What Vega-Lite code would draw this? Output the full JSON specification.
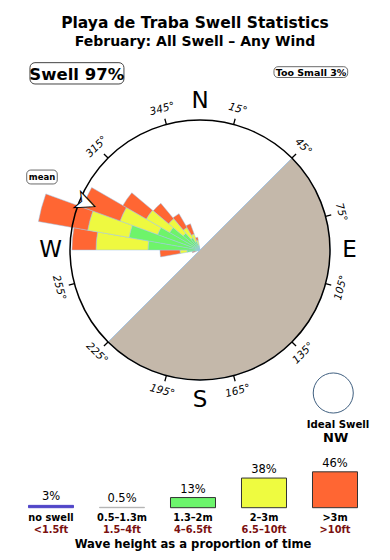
{
  "$schema": "https://vega.github.io/schema/vega-lite/v6.json",
  "width": 390,
  "height": 508,
  "autosize": {"type": "none"},
  "padding": {"left": 0, "top": 52, "right": 0, "bottom": 0},
  "background": "white",
  "title": {
    "text": "Playa de Traba Swell Statistics",
    "subtitle": "February: All Swell – Any Wind",
    "anchor": "middle",
    "font": "DejaVu Sans",
    "fontSize": 15.5,
    "fontWeight": "bold",
    "color": "black",
    "subtitleFont": "DejaVu Sans",
    "subtitleFontSize": 14,
    "subtitleFontWeight": "bold",
    "subtitleColor": "black",
    "offset": 3,
    "subtitlePadding": 4
  },
  "config": {"view": {"stroke": null}, "font": "DejaVu Sans"},
  "datasets": {
    "wedges": [
      {"d0": 250, "d1": 260, "cat": "1.3–2m", "r0": 0, "r1": 0.23},
      {"d0": 250, "d1": 260, "cat": "2–3m", "r0": 0.23, "r1": 0.38},
      {"d0": 250, "d1": 260, "cat": ">3m", "r0": 0.38, "r1": 0.62},
      {"d0": 260, "d1": 270, "cat": "1.3–2m", "r0": 0, "r1": 1.0},
      {"d0": 260, "d1": 270, "cat": "2–3m", "r0": 1.0, "r1": 1.54},
      {"d0": 260, "d1": 270, "cat": ">3m", "r0": 1.54, "r1": 3.08},
      {"d0": 270, "d1": 280, "cat": "1.3–2m", "r0": 0, "r1": 4.0},
      {"d0": 270, "d1": 280, "cat": "2–3m", "r0": 4.0, "r1": 8.0},
      {"d0": 270, "d1": 280, "cat": ">3m", "r0": 8.0, "r1": 9.85},
      {"d0": 280, "d1": 290, "cat": "1.3–2m", "r0": 0, "r1": 5.54},
      {"d0": 280, "d1": 290, "cat": "2–3m", "r0": 5.54, "r1": 8.77},
      {"d0": 280, "d1": 290, "cat": ">3m", "r0": 8.77, "r1": 12.62},
      {"d0": 290, "d1": 300, "cat": "1.3–2m", "r0": 0, "r1": 3.46},
      {"d0": 290, "d1": 300, "cat": "2–3m", "r0": 3.46, "r1": 6.54},
      {"d0": 290, "d1": 300, "cat": ">3m", "r0": 6.54, "r1": 9.62},
      {"d0": 300, "d1": 310, "cat": "1.3–2m", "r0": 0, "r1": 2.69},
      {"d0": 300, "d1": 310, "cat": "2–3m", "r0": 2.69, "r1": 4.77},
      {"d0": 300, "d1": 310, "cat": ">3m", "r0": 4.77, "r1": 6.85},
      {"d0": 310, "d1": 320, "cat": "1.3–2m", "r0": 0, "r1": 1.69},
      {"d0": 310, "d1": 320, "cat": "2–3m", "r0": 1.69, "r1": 3.15},
      {"d0": 310, "d1": 320, "cat": ">3m", "r0": 3.15, "r1": 4.69},
      {"d0": 320, "d1": 330, "cat": "1.3–2m", "r0": 0, "r1": 1.08},
      {"d0": 320, "d1": 330, "cat": "2–3m", "r0": 1.08, "r1": 2.0},
      {"d0": 320, "d1": 330, "cat": ">3m", "r0": 2.0, "r1": 3.23},
      {"d0": 330, "d1": 340, "cat": "1.3–2m", "r0": 0, "r1": 0.69},
      {"d0": 330, "d1": 340, "cat": "2–3m", "r0": 0.69, "r1": 1.31},
      {"d0": 330, "d1": 340, "cat": ">3m", "r0": 1.31, "r1": 2.15},
      {"d0": 340, "d1": 350, "cat": "1.3–2m", "r0": 0, "r1": 0.38},
      {"d0": 340, "d1": 350, "cat": "2–3m", "r0": 0.38, "r1": 0.77},
      {"d0": 340, "d1": 350, "cat": ">3m", "r0": 0.77, "r1": 1.0}
    ],
    "ticks": [
      {"b": 15}, {"b": 45}, {"b": 75}, {"b": 105}, {"b": 135}, {"b": 165},
      {"b": 195}, {"b": 225}, {"b": 255}, {"b": 285}, {"b": 315}, {"b": 345}
    ],
    "degrees": [
      {"b": 15, "label": "15°"}, {"b": 45, "label": "45°"}, {"b": 75, "label": "75°"},
      {"b": 105, "label": "105°"}, {"b": 135, "label": "135°"}, {"b": 165, "label": "165°"},
      {"b": 195, "label": "195°"}, {"b": 225, "label": "225°"}, {"b": 255, "label": "255°"},
      {"b": 315, "label": "315°"}, {"b": 345, "label": "345°"}
    ],
    "compass": [
      {"b": 0, "label": "N"}, {"b": 90, "label": "E"}, {"b": 180, "label": "S"}, {"b": 270, "label": "W"}
    ],
    "legend": [
      {"cat": "no swell", "pct": 3, "pctLabel": "3%", "ft": "<1.5ft"},
      {"cat": "0.5–1.3m", "pct": 0.5, "pctLabel": "0.5%", "ft": "1.5–4ft"},
      {"cat": "1.3–2m", "pct": 13, "pctLabel": "13%", "ft": "4–6.5ft"},
      {"cat": "2–3m", "pct": 38, "pctLabel": "38%", "ft": "6.5–10ft"},
      {"cat": ">3m", "pct": 46, "pctLabel": "46%", "ft": ">10ft"}
    ]
  },
  "layer": [
    {
      "layer": [
        {
          "data": {"values": [{"zone": "land", "from": 45, "to": 225}]},
          "mark": {"type": "arc", "fill": "#c4b8aa", "stroke": "#a6c4e2", "strokeWidth": 1},
          "encoding": {
            "x": {"datum": 0, "type": "quantitative", "scale": {"domain": [-10, 10], "range": [70, 330]}, "axis": null},
            "y": {"datum": 0, "type": "quantitative", "scale": {"domain": [-10, 10], "range": [328, 68]}, "axis": null},
            "theta": {"field": "from", "type": "quantitative", "scale": {"domain": [0, 360], "range": [0, 6.283185307179586]}, "stack": null},
            "theta2": {"field": "to"},
            "radius": {"datum": 10, "type": "quantitative", "scale": {"type": "linear", "domain": [0, 10], "range": [0, 130], "zero": true}}
          }
        },
        {
          "data": {"name": "ticks"},
          "mark": {"type": "arc", "filled": false, "stroke": "black", "strokeWidth": 1.3},
          "encoding": {
            "x": {"datum": 0, "type": "quantitative"},
            "y": {"datum": 0, "type": "quantitative"},
            "theta": {"field": "b", "type": "quantitative", "stack": null},
            "theta2": {"field": "b"},
            "radius": {"datum": 10.45, "type": "quantitative"},
            "radius2": {"datum": 10}
          }
        },
        {
          "data": {"name": "degrees"},
          "mark": {"type": "text", "font": "DejaVu Sans", "fontSize": 10.5, "fontStyle": "italic", "align": "center", "baseline": "middle", "color": "black"},
          "encoding": {
            "x": {"datum": 0, "type": "quantitative"},
            "y": {"datum": 0, "type": "quantitative"},
            "theta": {"field": "b", "type": "quantitative", "stack": null},
            "radius": {"datum": 11.23, "type": "quantitative"},
            "angle": {"field": "b", "type": "quantitative", "scale": {"domain": [0, 90, 90.001, 270, 270.001, 360], "range": [0, 90, -90, 90, -90, 0], "nice": false, "zero": false}},
            "text": {"field": "label"}
          }
        },
        {
          "data": {"name": "wedges"},
          "mark": {"type": "arc", "stroke": "#9dc3e6", "strokeWidth": 0.5},
          "encoding": {
            "x": {"datum": 0, "type": "quantitative"},
            "y": {"datum": 0, "type": "quantitative"},
            "theta": {"field": "d0", "type": "quantitative", "stack": null},
            "theta2": {"field": "d1"},
            "radius": {"field": "r1", "type": "quantitative", "stack": null},
            "radius2": {"field": "r0"},
            "color": {
              "field": "cat", "type": "nominal", "legend": null,
              "scale": {"domain": ["1.3–2m", "2–3m", ">3m"], "range": ["#6ef46a", "#eef940", "#ff6633"]}
            }
          }
        },
        {
          "data": {"values": [{"outline": "circle"}]},
          "mark": {"type": "arc", "filled": false, "stroke": "black", "strokeWidth": 1.5},
          "encoding": {
            "x": {"datum": 0, "type": "quantitative"},
            "y": {"datum": 0, "type": "quantitative"},
            "theta": {"datum": 0, "type": "quantitative"},
            "theta2": {"datum": 360},
            "radius": {"datum": 10, "type": "quantitative"}
          }
        },
        {
          "data": {"name": "compass"},
          "mark": {"type": "text", "font": "DejaVu Sans", "fontSize": 23, "align": "center", "baseline": "middle", "color": "black"},
          "encoding": {
            "x": {"datum": 0, "type": "quantitative"},
            "y": {"datum": 0, "type": "quantitative"},
            "theta": {"field": "b", "type": "quantitative", "stack": null},
            "radius": {"datum": 11.5, "type": "quantitative"},
            "text": {"field": "label"}
          }
        },
        {
          "data": {"values": [{"b": 292, "what": "mean"}]},
          "mark": {"type": "text", "text": "➤", "font": "DejaVu Sans", "fontSize": 28, "angle": 22, "align": "center", "baseline": "middle", "fill": "white", "stroke": "black", "strokeWidth": 1},
          "encoding": {
            "x": {"datum": 0, "type": "quantitative"},
            "y": {"datum": 0, "type": "quantitative"},
            "theta": {"field": "b", "type": "quantitative", "stack": null},
            "radius": {"datum": 9.55, "type": "quantitative"}
          }
        },
        {
          "data": {"values": [{}]},
          "mark": {"type": "rect", "fill": "white", "stroke": "#444", "strokeWidth": 1, "cornerRadius": 5},
          "encoding": {
            "x": {"datum": -13.08, "type": "quantitative"},
            "x2": {"datum": -5.85},
            "y": {"datum": 14.41, "type": "quantitative"},
            "y2": {"datum": 12.77}
          }
        },
        {
          "data": {"values": [{}]},
          "mark": {"type": "text", "text": "Swell 97%", "font": "DejaVu Sans", "fontSize": 16.5, "fontWeight": "bold", "align": "center", "baseline": "alphabetic", "color": "black"},
          "encoding": {
            "x": {"datum": -9.48, "type": "quantitative"},
            "y": {"datum": 13.08, "type": "quantitative"}
          }
        },
        {
          "data": {"values": [{}]},
          "mark": {"type": "rect", "fill": "white", "stroke": "#444", "strokeWidth": 0.8, "cornerRadius": 4},
          "encoding": {
            "x": {"datum": 5.69, "type": "quantitative"},
            "x2": {"datum": 11.36},
            "y": {"datum": 14.1, "type": "quantitative"},
            "y2": {"datum": 13.27}
          }
        },
        {
          "data": {"values": [{}]},
          "mark": {"type": "text", "text": "Too Small 3%", "font": "DejaVu Sans", "fontSize": 9.5, "fontWeight": "bold", "align": "center", "baseline": "alphabetic", "color": "black"},
          "encoding": {
            "x": {"datum": 8.54, "type": "quantitative"},
            "y": {"datum": 13.4, "type": "quantitative"}
          }
        },
        {
          "data": {"values": [{}]},
          "mark": {"type": "rect", "fill": "white", "stroke": "#444", "strokeWidth": 0.8, "cornerRadius": 4},
          "encoding": {
            "x": {"datum": -13.33, "type": "quantitative"},
            "x2": {"datum": -10.98},
            "y": {"datum": 6.15, "type": "quantitative"},
            "y2": {"datum": 5.08}
          }
        },
        {
          "data": {"values": [{}]},
          "mark": {"type": "text", "text": "mean", "font": "DejaVu Sans", "fontSize": 8.5, "fontWeight": "bold", "align": "center", "baseline": "alphabetic", "color": "black"},
          "encoding": {
            "x": {"datum": -12.15, "type": "quantitative"},
            "y": {"datum": 5.35, "type": "quantitative"}
          }
        },
        {
          "data": {"values": [{"outline": "ideal"}]},
          "mark": {"type": "arc", "filled": false, "stroke": "#3f5f80", "strokeWidth": 1},
          "encoding": {
            "x": {"datum": 10.25, "type": "quantitative"},
            "y": {"datum": -11.0, "type": "quantitative"},
            "theta": {"datum": 0, "type": "quantitative"},
            "theta2": {"datum": 360},
            "radius": {"datum": 1.54, "type": "quantitative"}
          }
        },
        {
          "data": {"values": [{}]},
          "mark": {"type": "text", "text": "Ideal Swell", "font": "DejaVu Sans", "fontSize": 10.2, "fontWeight": "bold", "align": "center", "baseline": "alphabetic", "color": "black"},
          "encoding": {
            "x": {"datum": 10.62, "type": "quantitative"},
            "y": {"datum": -13.69, "type": "quantitative"}
          }
        },
        {
          "data": {"values": [{}]},
          "mark": {"type": "text", "text": "NW", "font": "DejaVu Sans", "fontSize": 13, "fontWeight": "bold", "align": "center", "baseline": "alphabetic", "color": "black"},
          "encoding": {
            "x": {"datum": 10.44, "type": "quantitative"},
            "y": {"datum": -14.75, "type": "quantitative"}
          }
        }
      ]
    },
    {
      "data": {"name": "legend"},
      "layer": [
        {
          "mark": {"type": "bar", "strokeWidth": 1},
          "encoding": {
            "x": {
              "field": "cat", "type": "nominal", "axis": null,
              "scale": {"type": "band", "domain": ["no swell", "0.5–1.3m", "1.3–2m", "2–3m", ">3m"], "range": [15.5, 370.5], "paddingInner": 0.366, "paddingOuter": 0.183}
            },
            "y": {"field": "pct", "type": "quantitative", "axis": null, "scale": {"domain": [0, 50], "range": [455.7, 416.7]}},
            "color": {
              "field": "cat", "type": "nominal", "legend": null,
              "scale": {"domain": ["no swell", "0.5–1.3m", "1.3–2m", "2–3m", ">3m"], "range": ["#5046c8", "#b4b4b4", "#6cf56c", "#eefb40", "#ff6633"]}
            },
            "stroke": {
              "field": "cat", "type": "nominal", "legend": null,
              "scale": {"domain": ["no swell", "0.5–1.3m", "1.3–2m", "2–3m", ">3m"], "range": ["#5046c8", "#b4b4b4", "#333333", "#333333", "#333333"]}
            }
          }
        },
        {
          "mark": {"type": "text", "font": "DejaVu Sans", "fontSize": 11.5, "baseline": "alphabetic", "dy": -5, "color": "black"},
          "encoding": {
            "x": {"field": "cat", "type": "nominal"},
            "y": {"field": "pct", "type": "quantitative"},
            "text": {"field": "pctLabel"}
          }
        },
        {
          "mark": {"type": "text", "font": "DejaVu Sans", "fontSize": 9.8, "fontWeight": "bold", "baseline": "alphabetic", "dy": 13.3, "color": "black"},
          "encoding": {
            "x": {"field": "cat", "type": "nominal"},
            "y": {"datum": 0, "type": "quantitative"},
            "text": {"field": "cat"}
          }
        },
        {
          "mark": {"type": "text", "font": "DejaVu Sans", "fontSize": 9.8, "fontWeight": "bold", "baseline": "alphabetic", "dy": 24.8, "color": "#7b1010"},
          "encoding": {
            "x": {"field": "cat", "type": "nominal"},
            "y": {"datum": 0, "type": "quantitative"},
            "text": {"field": "ft"}
          }
        },
        {
          "data": {"values": [{}]},
          "mark": {"type": "text", "text": "Wave height as a proportion of time", "font": "DejaVu Sans", "fontSize": 11.6, "fontWeight": "bold", "baseline": "alphabetic", "dy": 40, "color": "black"},
          "encoding": {
            "x": {"datum": "1.3–2m", "type": "nominal"},
            "y": {"datum": 0, "type": "quantitative"}
          }
        }
      ]
    }
  ],
  "resolve": {"scale": {"x": "independent", "y": "independent", "color": "independent"}}
}
